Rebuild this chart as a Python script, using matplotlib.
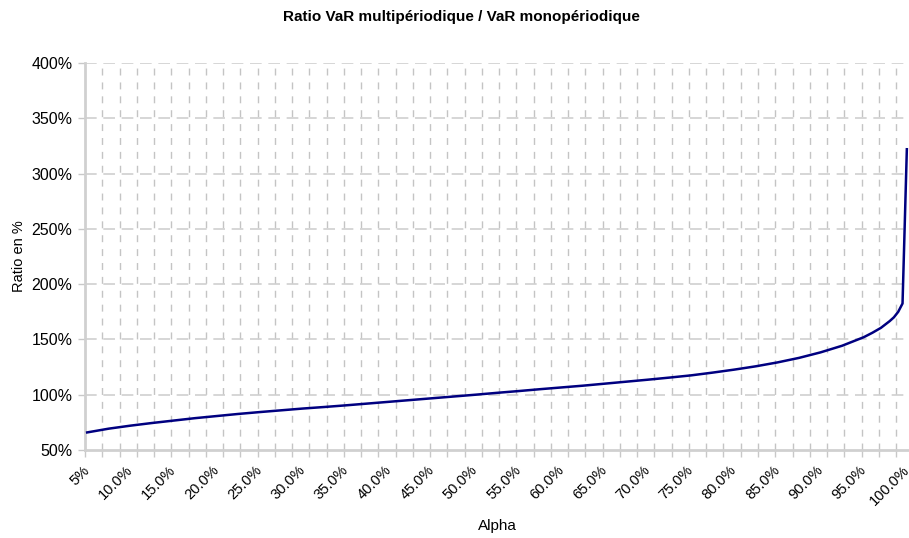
import numpy as np
import matplotlib
matplotlib.use("Agg")
import matplotlib.pyplot as plt
import matplotlib.transforms as mtransforms

plt.rcParams['font.family'] = ['Liberation Sans', 'DejaVu Sans']

# alpha (%) and ratio (%)
alpha = [5, 7.5, 10, 12.5, 15, 17.5, 20, 22.5, 25, 27.5, 30, 32.5, 35, 37.5, 40,
         42.5, 45, 47.5, 50, 52.5, 55, 57.5, 60, 62.5, 65, 67.5, 70, 72.5, 75,
         77.5, 80, 82.5, 85, 87.5, 90, 92.5, 95, 96, 97, 98, 98.5, 99, 99.5, 100]
ratio = [65.9, 69.3, 72.0, 74.4, 76.6, 78.8, 80.7, 82.6, 84.3, 85.9, 87.5, 88.9, 90.4, 92.0, 93.6,
         95.2, 96.8, 98.4, 100.0, 101.7, 103.3, 105.0, 106.6, 108.2, 110.0, 111.8, 113.6, 115.5, 117.5,
         120.0, 122.7, 125.7, 129.2, 133.3, 138.3, 144.3, 152.0, 156.0, 160.5, 166.5, 170.0, 175.0, 182.5, 322.0]

xtick_vals = list(range(5, 101, 5))
xtick_labels = ["5%"] + [f"{v:.1f}%" for v in xtick_vals[1:]]
ytick_vals = list(range(50, 401, 50))
ytick_labels = [f"{v}%" for v in ytick_vals]

step = 0.5  # category step of the original axis
x_lo = alpha[0] - step / 2
x_hi = alpha[-1] + step / 2
grid_x = np.arange(x_lo, x_hi, 4 * step)

fig = plt.figure(figsize=(9.09, 5.38), dpi=100)
ax = fig.add_axes([85 / 909, 1 - 450 / 538, 1 - 85 / 909, (450 - 63) / 538])

for gx in grid_x[1:]:
    ax.axvline(gx, color='#c4c4c4', linewidth=1, dashes=(5, 5), zorder=1)
for gy in ytick_vals[1:]:
    ax.axhline(gy, color='#cfcfcf', linewidth=1.2, dashes=(7, 4), zorder=1)

ax.plot(alpha, ratio, color='#000080', linewidth=1.8, zorder=3)

ax.set_xlim(x_lo, x_hi)
ax.set_ylim(50, 400)

ax.set_xticks(grid_x, minor=True)
ax.set_xticks(xtick_vals)
ax.set_xticklabels(xtick_labels, rotation=45, ha='right', va='center',
                   rotation_mode='anchor', fontsize=10.5)
shift = mtransforms.ScaledTranslation(-8 / 100, 0, fig.dpi_scale_trans)
for lab in ax.get_xticklabels():
    lab.set_transform(lab.get_transform() + shift)
ax.tick_params(axis='x', which='major', length=0, pad=13)
ax.tick_params(axis='x', which='minor', length=5, color='#c8c8c8', width=1)
ax.set_yticks(ytick_vals)
ax.set_yticklabels(ytick_labels, fontsize=11.5)
ax.tick_params(axis='y', length=5, color='#c8c8c8', width=1, pad=4)

for side in ['top', 'right']:
    ax.spines[side].set_visible(False)
for side in ['left', 'bottom']:
    ax.spines[side].set_color('#d0d0d0')
    ax.spines[side].set_linewidth(2)

ax.set_xlabel("Alpha", fontsize=11, labelpad=8)
ax.set_ylabel("Ratio en %", fontsize=10.5)
ax.yaxis.set_label_coords((26 - 85) / 824, 0.5)
fig.text(461 / 909, 1 - 17 / 538, "Ratio VaR multipériodique / VaR monopériodique",
         ha='center', va='center', fontsize=11, fontweight='bold')

fig.savefig("out.png", dpi=100)
